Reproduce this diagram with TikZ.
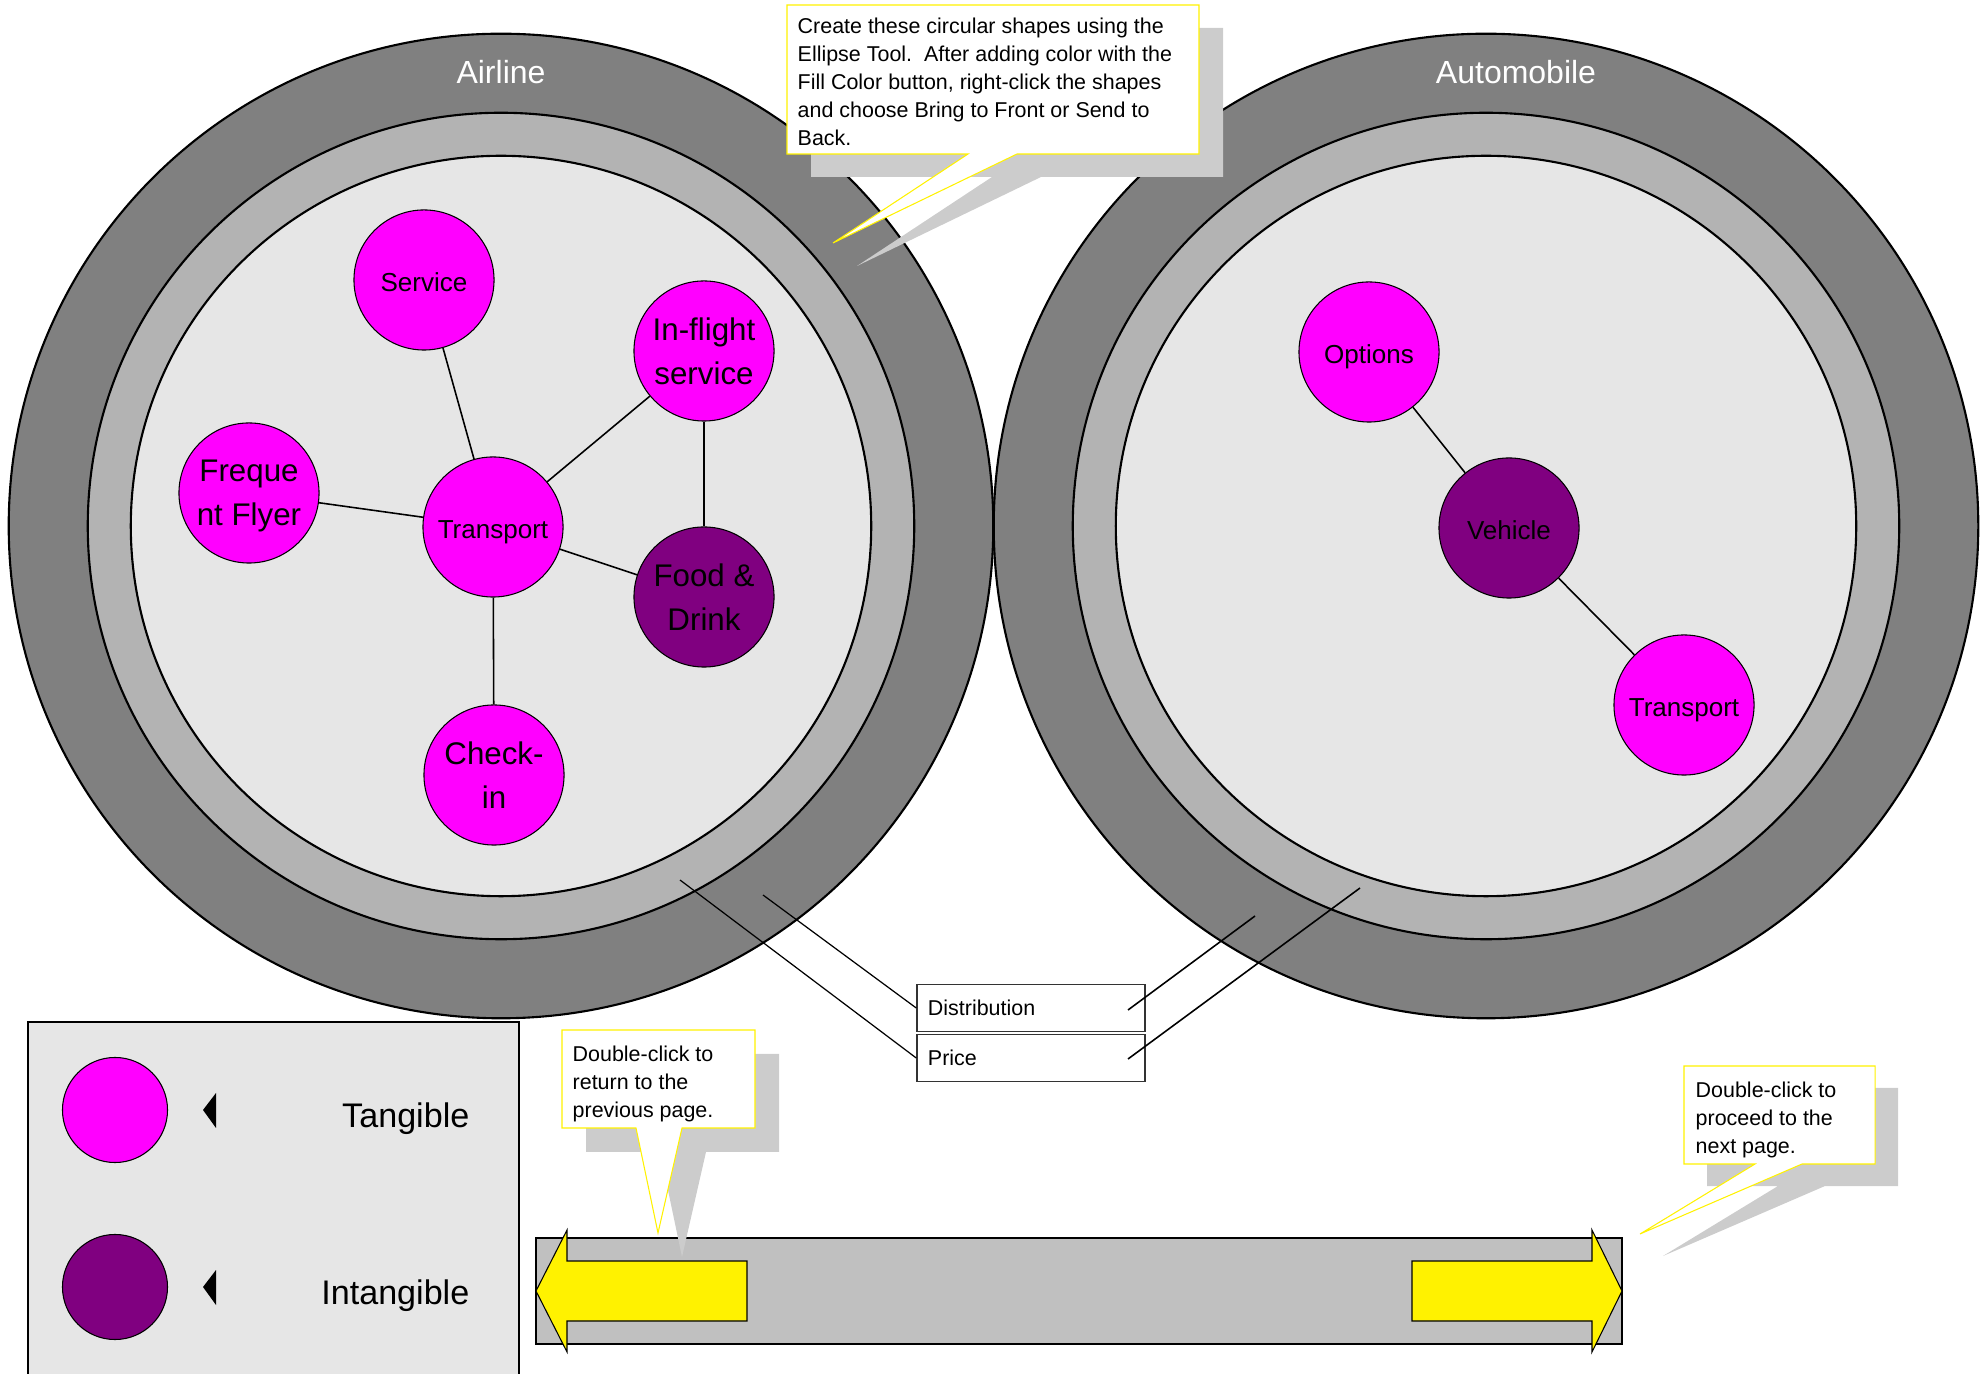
\documentclass[tikz,border=0pt]{standalone}
\usepackage{fontspec}
\setmainfont{Liberation Sans}
\definecolor{ringdark}{HTML}{808080}
\definecolor{ringmid}{HTML}{B3B3B3}
\definecolor{ringin}{HTML}{E6E6E6}
\definecolor{tangible}{HTML}{FF00FF}
\definecolor{intangible}{HTML}{800080}
\definecolor{shade}{HTML}{CCCCCC}
\definecolor{barfill}{HTML}{C0C0C0}
\begin{document}
\begin{tikzpicture}[x=0.01cm,y=-0.01cm,
 bubble/.style={circle,draw=black,line width=0.3pt,minimum size=1.4cm,inner sep=0pt,align=center},
 smallbubble/.style={bubble,font=\fontsize{7.4}{9}\selectfont,text height=0.66em,text depth=0pt},
 bigbubble/.style={bubble,font=\fontsize{8.9}{12.4}\selectfont,text depth=-2.4pt},
 tang/.style={fill=tangible},
 intang/.style={fill=intangible},
 ring/.style={draw=black,line width=0.6pt},
 link/.style={line width=0.45pt},
 tipbox/.style={fill=white,draw=yellow,line width=0.3pt},
 tipshade/.style={fill=shade},
 note/.style={anchor=north west,inner sep=0pt,align=left,font=\fontsize{6.1}{8}\selectfont},
 tag/.style={draw=black!80,line width=0.4pt,minimum width=2.28cm,minimum height=0.47cm,text width=2.06cm,inner xsep=0.11cm,align=left,font=\fontsize{6.1}{8}\selectfont},
 keytext/.style={anchor=base east,inner sep=0pt,font=\fontsize{9.7}{12}\selectfont}]
\useasboundingbox (0,0) rectangle (1988,1374);

\draw[ring,fill=ringdark] (501,526) circle (4.92cm);
\draw[ring,fill=ringmid] (501,526) circle (4.13cm);
\draw[ring,fill=ringin] (501,526) circle (3.70cm);
\draw[ring,fill=ringdark] (1486,526) circle (4.92cm);
\draw[ring,fill=ringmid] (1486,526) circle (4.13cm);
\draw[ring,fill=ringin] (1486,526) circle (3.70cm);
\node[text=white,font=\fontsize{9.1}{11}\selectfont] (airline) at (501,72) {Airline};
\node[text=white,font=\fontsize{9.1}{11}\selectfont] (automobile) at (1516,72) {Automobile};

\node[smallbubble,tang] (service) at (424,280) {Service};
\node[bigbubble,tang] (inflight) at (704,351) {In-flight\\service};
\node[bigbubble,tang] (frequent) at (249,493) {Freque\\nt Flyer};
\node[smallbubble,tang] (transportA) at (493,527) {Transport};
\node[bigbubble,intang] (food) at (704,597) {Food \&\\Drink};
\node[bigbubble,tang] (checkin) at (494,775) {Check-\\in};
\draw[link] (service) -- (transportA);
\draw[link] (frequent) -- (transportA);
\draw[link] (inflight) -- (transportA);
\draw[link] (inflight) -- (food);
\draw[link] (transportA) -- (food);
\draw[link] (transportA) -- (checkin);

\node[smallbubble,tang] (options) at (1369,352) {Options};
\node[smallbubble,intang] (vehicle) at (1509,528) {Vehicle};
\node[smallbubble,tang] (transportB) at (1684,705) {Transport};
\draw[link] (options) -- (vehicle);
\draw[link] (vehicle) -- (transportB);

\node[tag] (dist) at (1031,1008) {Distribution};
\node[tag] (price) at (1031,1058) {Price};
\coordinate (airOuter) at (763,895);
\coordinate (airMid) at (680,880);
\coordinate (autoOuter) at (1255,916);
\coordinate (autoMid) at (1360,888);
\coordinate (distEnd) at (1128,1010);
\coordinate (priceEnd) at (1128,1059);
\draw[line width=0.35pt] (dist.west) -- (airOuter);
\draw[line width=0.35pt] (price.west) -- (airMid);
\draw[link] (distEnd) -- (autoOuter);
\draw[link] (priceEnd) -- (autoMid);

\draw[line width=0.6pt,fill=ringin] (28,1022) rectangle (519,1400);
\node[circle,draw,line width=0.3pt,tang,minimum size=1.05cm] (keyT) at (115,1110) {};
\node[circle,draw,line width=0.3pt,intang,minimum size=1.05cm] (keyI) at (115,1287) {};
\fill (203,1110) -- (216,1093) -- (216,1128) -- cycle;
\fill (203,1287) -- (216,1270) -- (216,1305) -- cycle;
\node[keytext] (keyTtext) at (470,1127) {Tangible};
\node[keytext] (keyItext) at (470,1304) {Intangible};

\draw[line width=0.8pt,fill=barfill] (536,1238) rectangle (1622,1344);
\draw[line width=0.3pt,fill=yellow] (536,1291) -- (567,1230) -- (567,1261) -- (747,1261) -- (747,1321) -- (567,1321) -- (567,1352) -- cycle;
\draw[line width=0.3pt,fill=yellow] (1622,1291) -- (1592,1230) -- (1592,1261) -- (1412,1261) -- (1412,1321) -- (1592,1321) -- (1592,1352) -- cycle;

\fill[tipshade,shift={(24,23)}] (787,5) -- (1199,5) -- (1199,154) -- (1017,154) -- (833,243) -- (968,154) -- (787,154) -- cycle;
\draw[tipbox] (787,5) -- (1199,5) -- (1199,154) -- (1017,154) -- (833,243) -- (968,154) -- (787,154) -- cycle;
\node[note] (ellipsetip) at (797,17) {Create these circular shapes using the\\Ellipse Tool.\ \ After adding color with the\\Fill Color button, right-click the shapes\\and choose Bring to Front or Send to\\Back.};

\fill[tipshade,shift={(24,24)}] (562,1030) -- (755,1030) -- (755,1128) -- (682,1128) -- (658,1233) -- (636,1128) -- (562,1128) -- cycle;
\draw[tipbox] (562,1030) -- (755,1030) -- (755,1128) -- (682,1128) -- (658,1233) -- (636,1128) -- (562,1128) -- cycle;
\node[note] (backtip) at (572,1045) {Double-click to\\return to the\\previous page.};

\fill[tipshade,shift={(23,22)}] (1684,1066) -- (1875,1066) -- (1875,1164) -- (1802,1164) -- (1640,1234) -- (1755,1164) -- (1684,1164) -- cycle;
\draw[tipbox] (1684,1066) -- (1875,1066) -- (1875,1164) -- (1802,1164) -- (1640,1234) -- (1755,1164) -- (1684,1164) -- cycle;
\node[note] (nexttip) at (1695,1081) {Double-click to\\proceed to the\\next page.};
\end{tikzpicture}
\end{document}
